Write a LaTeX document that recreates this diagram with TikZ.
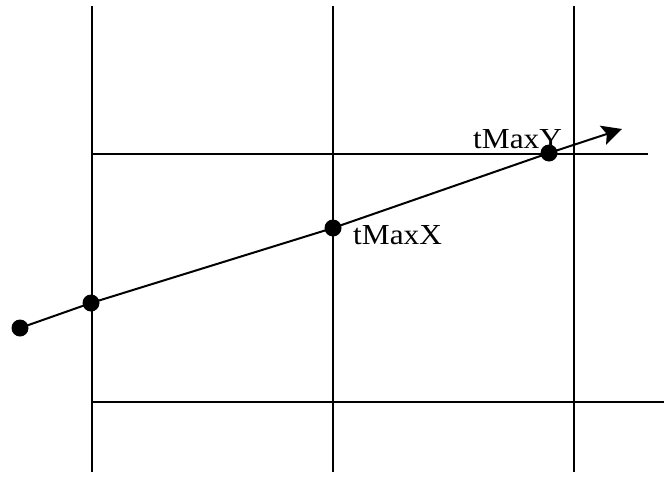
\documentclass[tikz,border=0pt]{standalone}
\usepackage{fontspec}
\setmainfont{Liberation Serif}
\usetikzlibrary{arrows.meta, positioning}
\tikzstyle{gridline} = [line width=1.5pt, color=black]
\tikzstyle{hit} = [circle, fill=black, inner sep=0pt, minimum size=17pt]
\tikzstyle{tlabel} = [font=\fontsize{29}{29}\selectfont, inner sep=0pt, anchor=base west, xscale=1.08]
\tikzset{ray/.style={line width=2pt, -{Stealth[length=20pt, width=20pt, inset=4pt]}}}

\begin{document}
\begin{tikzpicture}[x=1pt, y=-1pt]
    \useasboundingbox (0,0) rectangle (664,477);
    % cell grid
    \draw[gridline] (92,6) -- (92,472);
    \draw[gridline] (333,6) -- (333,472);
    \draw[gridline] (574,6) -- (574,472);
    \draw[gridline] (92,154) -- (648,154);
    \draw[gridline] (92,402) -- (664,402);

    \node[hit] (origin) at (20,328) {};
    \node[hit] (entry) at (91,303) {};
    \node[hit] (crossx) at (333,228) {};
    \node[hit] (crossy) at (549,153) {};
    \coordinate (dir) at (622,129);

    \node[tlabel] (lblx) at (353,244) {tMaxX};
    \node[tlabel] (lbly) at (473,148) {tMaxY};

    \draw[ray] (origin.center) -- (entry.center) -- (crossx.center) -- (crossy.center) -- (dir);
\end{tikzpicture}
\end{document}
